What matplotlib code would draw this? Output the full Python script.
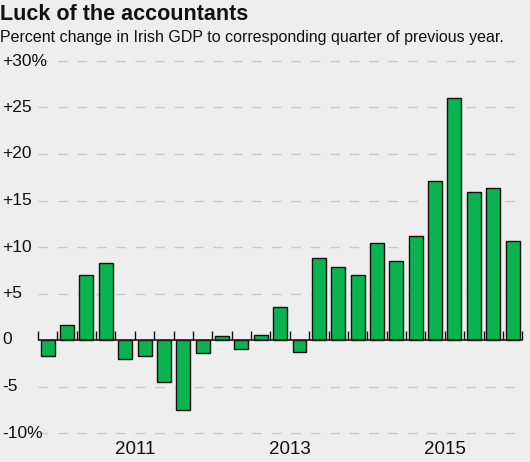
import matplotlib
matplotlib.use("Agg")
import matplotlib.pyplot as plt
from matplotlib import font_manager

names = {f.name for f in font_manager.fontManager.ttflist}
FONT = "Liberation Sans Narrow" if "Liberation Sans Narrow" in names else "Liberation Sans"
plt.rcParams['font.family'] = [FONT, 'DejaVu Sans']

values = [-1.7, 1.6, 7.0, 8.3, -2.0, -1.7, -4.5, -7.5, -1.4, 0.4, -1.0, 0.5, 3.6,
          -1.3, 8.8, 7.85, 7.0, 10.4, 8.5, 11.2, 17.1, 26.0, 15.9, 16.3, 10.6]
y_ticks = [30, 25, 20, 15, 10, 5, 0, -5, -10]
y_labels = ["+30%", "+25", "+20", "+15", "+10", "+5", "0", "-5", "-10%"]
year_labels = ["2011", "2013", "2015"]
year_pos = [4.5, 12.5, 20.5]

BG = "#edeeed"
GREEN = "#0ab350"

W, H = 530, 462
fig = plt.figure(figsize=(W / 100, H / 100), dpi=100, facecolor=BG)
ax = fig.add_axes([0, 0, 1, 1], facecolor=BG)
step = 19.37
x0px = 38
ax.set_xlim(-x0px / step - 0.5, (W - x0px) / step - 0.5)
ppu = 9.3
zero_px = 340
ax.set_ylim(-(H - zero_px) / ppu, zero_px / ppu)
ax.axis("off")

n = len(values)
# gridlines
for t in y_ticks:
    if t != 0:
        ax.hlines(t, -0.5, n - 0.55, colors="#c9cbca", linestyles=(0, (7, 7)), lw=1.0, zorder=1)

ax.bar(range(n), values, width=0.72, color=GREEN, edgecolor="#111111", lw=1.0, zorder=3)

# zero line and ticks
ax.hlines(0, -0.5, n - 0.5, colors="#2a1a1a", lw=1.2, zorder=4)
tick_h = 9 / ppu
for k in range(n + 1):
    ax.vlines(k - 0.5, 0, tick_h, colors="#111111", lw=1.0, zorder=4)

# y labels
for t, lab in zip(y_ticks, y_labels):
    fig.text(2 / W, 1 - (zero_px - t * ppu) / H, lab, fontsize=12.5, va="center",
             ha="left", color="#111111")

# year labels
for p, lab in zip(year_pos, year_labels):
    ax.text(p, -(450 - zero_px) / ppu, lab, fontsize=13.5, ha="center", va="center",
            color="#111111")

fig.text(0, 1 - 20 / H, "Luck of the accountants", fontsize=15.5, fontweight="bold",
         ha="left", va="baseline", color="#111111")
fig.text(0, 1 - 42 / H, "Percent change in Irish GDP to corresponding quarter of previous year.",
         fontsize=11.5, ha="left", va="baseline", color="#111111")

fig.savefig("out.png", dpi=100, facecolor=BG)
